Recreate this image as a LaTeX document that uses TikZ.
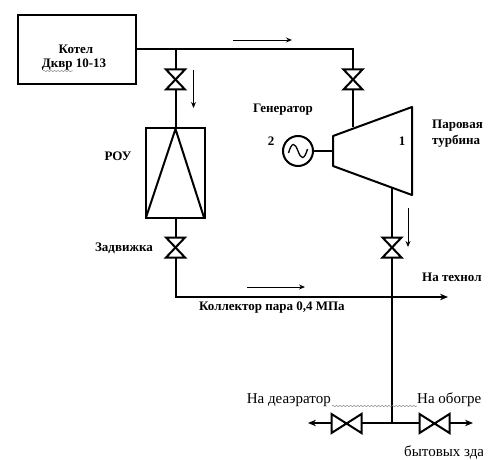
\documentclass[tikz,border=0pt]{standalone}
\usepackage{fontspec}
\setmainfont{Liberation Serif}
\usetikzlibrary{positioning, arrows.meta, decorations.pathmorphing}
\tikzset{
    pipe/.style={line width=2pt},
    flow/.style={-{Stealth[length=6pt,width=5pt]}, line width=0.9pt},
    pipeout/.style={line width=2pt, {Stealth[length=8pt,width=6.5pt]}-},
    unit/.style={draw, line width=2pt, inner sep=0pt},
    lbl/.style={font=\fontsize{13}{15}\selectfont\bfseries, inner sep=0pt},
    lblthin/.style={font=\fontsize{15}{17}\selectfont, inner sep=0pt},
    squiggle/.style={gray, line width=0.5pt, decorate, decoration={snake, amplitude=0.7pt, segment length=3.5pt}},
    valvebody/.style={draw, fill=white, line width=2pt, line join=miter}
}

\begin{document}
\begin{tikzpicture}[x=1pt, y=-1pt, >=Stealth]

\useasboundingbox (0,0) rectangle (496,460);

% Pipe junctions and turbine corners
\coordinate (boilerT) at (175.5,49.5);
\coordinate (turbIn) at (353,49.5);
\coordinate (turbInEnd) at (353,127);
\coordinate (turbOut) at (392,188);
\coordinate (collStart) at (175.5,297);
\coordinate (collCross) at (392,297);
\coordinate (collEnd) at (448,297);
\coordinate (botT) at (392,423);
\coordinate (botL) at (308,423);
\coordinate (botR) at (473,423);
\coordinate (roApex) at (175.5,129);
\coordinate (roLeft) at (146,217.5);
\coordinate (roRight) at (204,217.5);
\coordinate (roBottom) at (175.5,218);
\coordinate (turbA) at (333,136);
\coordinate (turbB) at (412,107);
\coordinate (turbC) at (412,195);
\coordinate (turbD) at (333,166);

% Kotel
\node[unit, minimum width=118.5pt, minimum height=69pt] (kotel) at (77,49.5) {};
\node[lbl] (kotelName) at (76,49) {Котел};
\node[lbl] (kotelType) at (74,65) {Дквр 10-13};
\draw[squiggle] (43,71) -- (73,71);

% ROU
\node[unit, minimum width=59pt, minimum height=89.5pt] (rou) at (175,173) {};
\draw[line width=2pt, line join=round] (roLeft) -- (roApex) -- (roRight);
\node[lbl] (rouName) at (118,156) {РОУ};

% Turbine and generator
\draw[line width=2pt, line join=round] (turbA) -- (turbB) -- (turbC) -- (turbD) -- cycle;
\node[unit, circle, minimum size=30pt] (gen) at (298,151) {};
\draw[line width=1.3pt] (288.5,153) .. controls (292,141) and (295,143) .. (298,151) .. controls (301,159) and (304,161) .. (307.5,149);
\draw[pipe] (gen) -- (turbA |- gen);
\node[lbl] (genName) at (283,110) {Генератор};
\node[lbl] (genNum) at (271,141) {2};
\node[lbl] (turbNum) at (402,141) {1};

% Pipes
\draw[pipe] (kotel.east |- boilerT) -- (turbIn) -- (turbInEnd);
\draw[pipe] (boilerT) -- (roApex);
\draw[pipe] (roBottom) -- (collStart) -- (collCross);
\draw[pipe] (turbOut) -- (botT);
\draw[pipeout] (collEnd) -- (collCross);
\draw[pipeout] (botL) -- (botT);
\draw[pipeout] (botR) -- (botT);

% Valves
\foreach \x/\y in {175.5/79.5, 353/79.5, 175.5/247.5, 392/247.5} {
    \draw[valvebody] (\x-9.5,\y-10) -- (\x+9.5,\y-10) -- (\x-9.5,\y+10) -- (\x+9.5,\y+10) -- cycle;
}
\foreach \x/\y in {346.5/423.5, 434.5/423.5} {
    \draw[valvebody] (\x-15,\y-9.5) -- (\x-15,\y+9.5) -- (\x+15,\y-9.5) -- (\x+15,\y+9.5) -- cycle;
}

% Flow arrows
\draw[flow] (233,40) -- (292,40);
\draw[flow] (193.5,70) -- (193.5,108);
\draw[flow] (408,208) -- (408,247);
\draw[flow] (247,287) -- (305,287);

% Labels
\node[lbl, anchor=west] (turbName1) at (432,126) {Паровая};
\node[lbl, anchor=west] (turbName2) at (432,141) {турбина};
\node[lbl, anchor=east] (valveName) at (153,248) {Задвижка};
\node[lbl, anchor=west] (collName) at (199,308) {Коллектор пара 0,4 МПа};
\node[lblthin, anchor=east] (deaName) at (331,400) {На деаэратор};
\draw[squiggle] (332,406) -- (417,406);

% Text cut off at the right
\begin{scope}
\clip (0,0) rectangle (482,460);
\node[lbl, anchor=west] (techName) at (422,277) {На технол};
\node[lblthin, anchor=west] (heatName) at (417,400) {На обогре};
\node[lblthin, anchor=west] (bldName) at (404,453) {бытовых зда};
\end{scope}

\end{tikzpicture}
\end{document}
